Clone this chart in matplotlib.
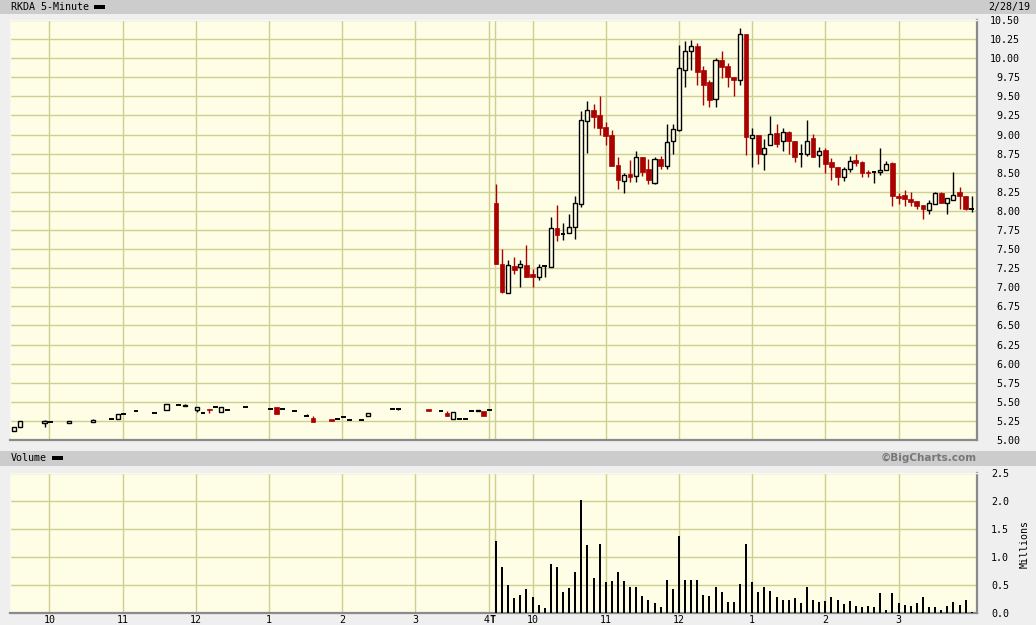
import numpy as np
import matplotlib
matplotlib.use("Agg")
import matplotlib.pyplot as plt
from matplotlib.patches import Rectangle

# ---------------- data ----------------
# Day 1 (2/27): 5-minute slot index since 9:30 for bars that traded
day1_slots = [0, 1, 5, 6, 9, 13, 16, 17, 18, 20, 23, 25, 27, 28, 30, 31, 32, 33, 34, 35,
              38, 42, 43, 44, 46, 48, 49, 52, 53, 54, 55, 57, 58, 62, 63, 68, 70, 71, 72, 73,
              74, 75, 76, 77, 78]
day1_open = [5.12, 5.17, 5.22, 5.23, 5.22, 5.23, 5.28, 5.28, 5.34, 5.38, 5.35, 5.39, 5.46, 5.44, 5.39,
             5.36, 5.40, 5.43, 5.37, 5.39, 5.43, 5.41, 5.43, 5.40, 5.38, 5.32, 5.29, 5.27, 5.28, 5.30,
             5.26, 5.26, 5.31, 5.40, 5.40, 5.41, 5.38, 5.36, 5.28, 5.28, 5.28, 5.38, 5.38, 5.38, 5.39]
day1_high = [5.17, 5.25, 5.26, 5.23, 5.25, 5.28, 5.28, 5.34, 5.34, 5.38, 5.35, 5.47, 5.46, 5.47, 5.43,
             5.36, 5.40, 5.43, 5.43, 5.39, 5.43, 5.41, 5.43, 5.40, 5.38, 5.34, 5.31, 5.27, 5.28, 5.30,
             5.26, 5.26, 5.35, 5.40, 5.40, 5.41, 5.38, 5.38, 5.37, 5.28, 5.28, 5.38, 5.39, 5.38, 5.39]
day1_low = [5.12, 5.17, 5.17, 5.23, 5.22, 5.23, 5.28, 5.28, 5.34, 5.38, 5.35, 5.39, 5.46, 5.44, 5.37,
            5.36, 5.36, 5.43, 5.37, 5.39, 5.43, 5.41, 5.34, 5.40, 5.38, 5.31, 5.24, 5.25, 5.28, 5.30,
            5.26, 5.26, 5.31, 5.40, 5.39, 5.38, 5.38, 5.32, 5.28, 5.28, 5.28, 5.38, 5.38, 5.32, 5.39]
day1_close = [5.17, 5.25, 5.25, 5.23, 5.25, 5.26, 5.28, 5.34, 5.34, 5.38, 5.35, 5.47, 5.46, 5.46, 5.43,
              5.36, 5.39, 5.43, 5.43, 5.39, 5.43, 5.41, 5.34, 5.40, 5.38, 5.32, 5.24, 5.25, 5.28, 5.30,
              5.26, 5.26, 5.35, 5.40, 5.40, 5.38, 5.38, 5.32, 5.37, 5.28, 5.28, 5.38, 5.39, 5.32, 5.39]
day1_volume = [0.004, 0.003, 0.002, 0.001, 0.002, 0.002, 0.001, 0.003, 0.001, 0.001, 0.001, 0.004, 0.001,
               0.002, 0.003, 0.001, 0.002, 0.001, 0.003, 0.001, 0.001, 0.001, 0.004, 0.001, 0.001, 0.002,
               0.003, 0.002, 0.001, 0.001, 0.001, 0.001, 0.002, 0.001, 0.001, 0.002, 0.001, 0.003, 0.003,
               0.001, 0.001, 0.001, 0.002, 0.003, 0.001]

# Day 2 (2/28): every 5-minute bar from 9:30 to 4:00
day2_open = [8.11, 7.31, 6.92, 7.28, 7.26, 7.29, 7.17, 7.13, 7.28, 7.27, 7.77, 7.70, 7.71, 7.79, 8.09,
             9.18, 9.32, 9.26, 9.10, 8.99, 8.60, 8.39, 8.48, 8.46, 8.70, 8.55, 8.37, 8.68, 8.59, 8.91,
             9.06, 9.84, 10.09, 10.16, 9.85, 9.69, 9.46, 9.98, 9.90, 9.76, 9.71, 10.32, 8.96, 8.99, 8.75,
             8.86, 9.02, 8.91, 9.03, 8.91, 8.75, 8.74, 8.96, 8.73, 8.80, 8.64, 8.57, 8.45, 8.55, 8.67,
             8.64, 8.51, 8.51, 8.51, 8.54, 8.63, 8.20, 8.21, 8.16, 8.13, 8.08, 8.01, 8.09, 8.23, 8.11,
             8.14, 8.25, 8.19, 8.03]
day2_high = [8.35, 7.50, 7.36, 7.40, 7.36, 7.55, 7.24, 7.31, 7.29, 7.92, 8.08, 7.84, 7.96, 8.20, 9.31,
             9.44, 9.40, 9.50, 9.16, 9.06, 8.70, 8.50, 8.67, 8.79, 8.71, 8.68, 8.71, 8.72, 9.14, 9.14,
             10.17, 10.23, 10.24, 10.20, 9.90, 9.72, 10.00, 10.10, 9.94, 9.76, 10.40, 10.32, 9.08, 9.00, 8.94,
             9.24, 9.14, 9.08, 9.05, 8.92, 8.88, 9.19, 9.01, 8.84, 8.83, 8.69, 8.58, 8.58, 8.72, 8.75,
             8.65, 8.54, 8.51, 8.83, 8.65, 8.64, 8.24, 8.27, 8.25, 8.13, 8.08, 8.14, 8.25, 8.25, 8.17,
             8.51, 8.31, 8.20, 8.20]
day2_low = [7.31, 6.93, 6.92, 7.17, 7.01, 7.13, 7.01, 7.10, 7.14, 7.27, 7.61, 7.62, 7.71, 7.63, 8.05,
            8.76, 9.09, 8.99, 8.86, 8.59, 8.29, 8.23, 8.38, 8.38, 8.46, 8.35, 8.35, 8.55, 8.55, 8.75,
            9.05, 9.62, 9.85, 9.65, 9.39, 9.36, 9.36, 9.74, 9.62, 9.50, 9.65, 8.73, 8.58, 8.62, 8.53,
            8.86, 8.84, 8.79, 8.75, 8.64, 8.58, 8.72, 8.71, 8.58, 8.49, 8.40, 8.34, 8.39, 8.51, 8.59,
            8.44, 8.44, 8.36, 8.47, 8.53, 8.06, 8.09, 8.07, 8.06, 8.03, 7.89, 7.96, 8.09, 8.10, 7.96,
            8.14, 8.02, 8.01, 7.99]
day2_close = [7.31, 6.94, 7.29, 7.23, 7.31, 7.13, 7.14, 7.27, 7.28, 7.77, 7.69, 7.70, 7.79, 8.11, 9.19,
              9.32, 9.23, 9.09, 8.98, 8.59, 8.40, 8.47, 8.44, 8.70, 8.51, 8.40, 8.68, 8.59, 8.90, 9.07,
              9.87, 10.09, 10.16, 9.82, 9.65, 9.45, 9.98, 9.89, 9.76, 9.71, 10.32, 8.97, 9.00, 8.75, 8.83,
              9.01, 8.88, 9.03, 8.92, 8.71, 8.75, 8.92, 8.71, 8.79, 8.62, 8.58, 8.45, 8.55, 8.66, 8.63,
              8.49, 8.49, 8.51, 8.54, 8.62, 8.19, 8.17, 8.16, 8.12, 8.07, 8.02, 8.10, 8.23, 8.11, 8.17,
              8.21, 8.19, 8.03, 8.03]
day2_volume = [1.28, 0.82, 0.50, 0.27, 0.33, 0.43, 0.29, 0.15, 0.09, 0.87,
               0.83, 0.38, 0.45, 0.73, 2.01, 1.21, 0.63, 1.23, 0.55, 0.57,
               0.73, 0.57, 0.47, 0.47, 0.31, 0.24, 0.18, 0.11, 0.59, 0.43,
               1.37, 0.59, 0.59, 0.59, 0.33, 0.31, 0.47, 0.38, 0.20, 0.20,
               0.52, 1.23, 0.55, 0.38, 0.47, 0.40, 0.29, 0.23, 0.23, 0.26,
               0.18, 0.46, 0.23, 0.20, 0.21, 0.29, 0.23, 0.16, 0.21, 0.12,
               0.11, 0.12, 0.11, 0.35, 0.06, 0.35, 0.17, 0.15, 0.13, 0.18,
               0.29, 0.11, 0.11, 0.06, 0.13, 0.20, 0.15, 0.23, 0.02]

hour_labels = ["10", "11", "12", "1", "2", "3"]
price_ticks = [5.00, 5.25, 5.50, 5.75, 6.00, 6.25, 6.50, 6.75, 7.00, 7.25, 7.50, 7.75, 8.00,
               8.25, 8.50, 8.75, 9.00, 9.25, 9.50, 9.75, 10.00, 10.25, 10.50]
volume_ticks = [0.0, 0.5, 1.0, 1.5, 2.0, 2.5]
title_text = "RKDA 5-Minute"
date_text = "2/28/19"

# ---------------- style ----------------
W, H = 1036, 625
BG = "#efefef"
PANEL = "#fefee6"
GRID = "#cfcf8f"
RED = "#aa0000"
BARS_PER_DAY = 79
MONO = "DejaVu Sans Mono"
FS = 7.2

def fx(px):
    return px / W

def fy(py):
    return 1 - py / H

fig = plt.figure(figsize=(W / 100, H / 100), dpi=100)
fig.patch.set_facecolor(BG)

# header bars
fig.add_artist(Rectangle((0, fy(14)), 1, 14 / H, transform=fig.transFigure,
                         facecolor="#cccccc", edgecolor="none", zorder=0))
fig.add_artist(Rectangle((0, fy(466)), 1, 15 / H, transform=fig.transFigure,
                         facecolor="#cccccc", edgecolor="none", zorder=0))

ax = fig.add_axes([fx(10), fy(440), 967 / W, 420 / H])
axv = fig.add_axes([fx(10), fy(613), 967 / W, 140 / H])

xpos_per_px = 1 / 6.1
x_left = (10 - 14) * xpos_per_px
x_right = (977 - 14) * xpos_per_px

# hour grid positions (in bar units)
day1_hours = [6 + 12 * k - 0.2 for k in range(7)]          # 10 .. 4
day2_hours = [BARS_PER_DAY + 6 + 12 * k for k in range(6)]  # 10 .. 3
open_line = BARS_PER_DAY - 0.15
vgrid = day1_hours + [open_line] + day2_hours

for a in (ax, axv):
    a.set_facecolor(PANEL)
    a.set_xlim(x_left, x_right)
    for x in vgrid:
        a.axvline(x, color=GRID, lw=1.0, zorder=0.5)
    a.tick_params(length=0)
    for s in ("left", "top"):
        a.spines[s].set_color("#f8f8f0")
        a.spines[s].set_linewidth(1.0)
    for s in ("right", "bottom"):
        a.spines[s].set_color("#8a8a8a")
        a.spines[s].set_linewidth(1.6)

# ---------- price panel ----------
ax.set_ylim(5.0, 10.5)
for p in price_ticks:
    ax.axhline(p, color=GRID, lw=1.0, zorder=0.5)
ax.set_xticks([])
ax.yaxis.tick_right()
ax.set_yticks(price_ticks)
ax.set_yticklabels([f"{p:.2f}" for p in price_ticks], fontsize=FS, family=MONO)
ax.tick_params(axis="y", pad=31)
for lab in ax.get_yticklabels():
    lab.set_horizontalalignment("right")

pos = list(day1_slots) + [BARS_PER_DAY + j for j in range(len(day2_open))]
opens = day1_open + day2_open
highs = day1_high + day2_high
lows = day1_low + day2_low
closes = day1_close + day2_close

bw = 0.76
for x, o, h, l, c in zip(pos, opens, highs, lows, closes):
    down = c < o
    col = RED if down else "black"
    if h > max(o, c) or l < min(o, c):
        ax.vlines(x, l, h, color=col, lw=1.0, zorder=2)
    if abs(c - o) < 0.005:
        ax.hlines(o, x - bw / 2, x + bw / 2, color="black", lw=1.4, zorder=3)
    elif down:
        ax.bar(x, o - c, bottom=c, width=bw, color=RED, edgecolor=RED, lw=0.5, zorder=3)
    else:
        ax.bar(x, c - o, bottom=o, width=bw * 0.9, color=PANEL, edgecolor="black",
               lw=1.0, zorder=3)

# ---------- volume panel ----------
axv.set_ylim(0, 2.5)
for v in volume_ticks:
    axv.axhline(v, color=GRID, lw=1.0, zorder=0.5)
vpos = list(day1_slots) + [BARS_PER_DAY + j for j in range(len(day2_volume))]
vols = day1_volume + day2_volume
axv.vlines(vpos, 0, vols, color="black", lw=1.1, zorder=3, antialiased=False)
axv.yaxis.tick_right()
axv.set_yticks(volume_ticks)
axv.set_yticklabels([f"{v:.1f}" for v in volume_ticks], fontsize=FS, family=MONO)
axv.tick_params(axis="y", pad=10)
axv.set_xticks([])

# x labels
XL_Y = 625
for x, lab in zip(day1_hours[:6] + day2_hours, hour_labels + hour_labels):
    fig.text(fx(14 + x * 6.1), fy(XL_Y), lab, ha="center", va="bottom",
             fontsize=FS, family=MONO)
fig.text(fx(490), fy(XL_Y), "4", ha="right", va="bottom", fontsize=FS, family=MONO)
fig.text(fx(489.5), fy(XL_Y), "T", ha="left", va="bottom", fontsize=FS, family=MONO,
         weight="bold")

fig.text(fx(1025), fy(544), "Millions", rotation=90, ha="center", va="center",
         fontsize=FS, family=MONO)

# headers
fig.text(fx(11), fy(7), title_text, ha="left", va="center", fontsize=FS, family=MONO)
fig.add_artist(Rectangle((fx(94), fy(9)), 11 / W, 4 / H, transform=fig.transFigure,
                         facecolor="black", edgecolor="none"))
fig.text(fx(1030), fy(7), date_text, ha="right", va="center", fontsize=FS, family=MONO)

fig.text(fx(11), fy(458), "Volume", ha="left", va="center", fontsize=FS, family=MONO)
fig.add_artist(Rectangle((fx(52), fy(460)), 11 / W, 4 / H, transform=fig.transFigure,
                         facecolor="black", edgecolor="none"))
fig.text(fx(977), fy(458), "\u00a9BigCharts.com", ha="right", va="center",
         fontsize=7.5, family="DejaVu Sans", weight="bold", color="#777777")

fig.savefig("out.png", dpi=100, facecolor=BG)
